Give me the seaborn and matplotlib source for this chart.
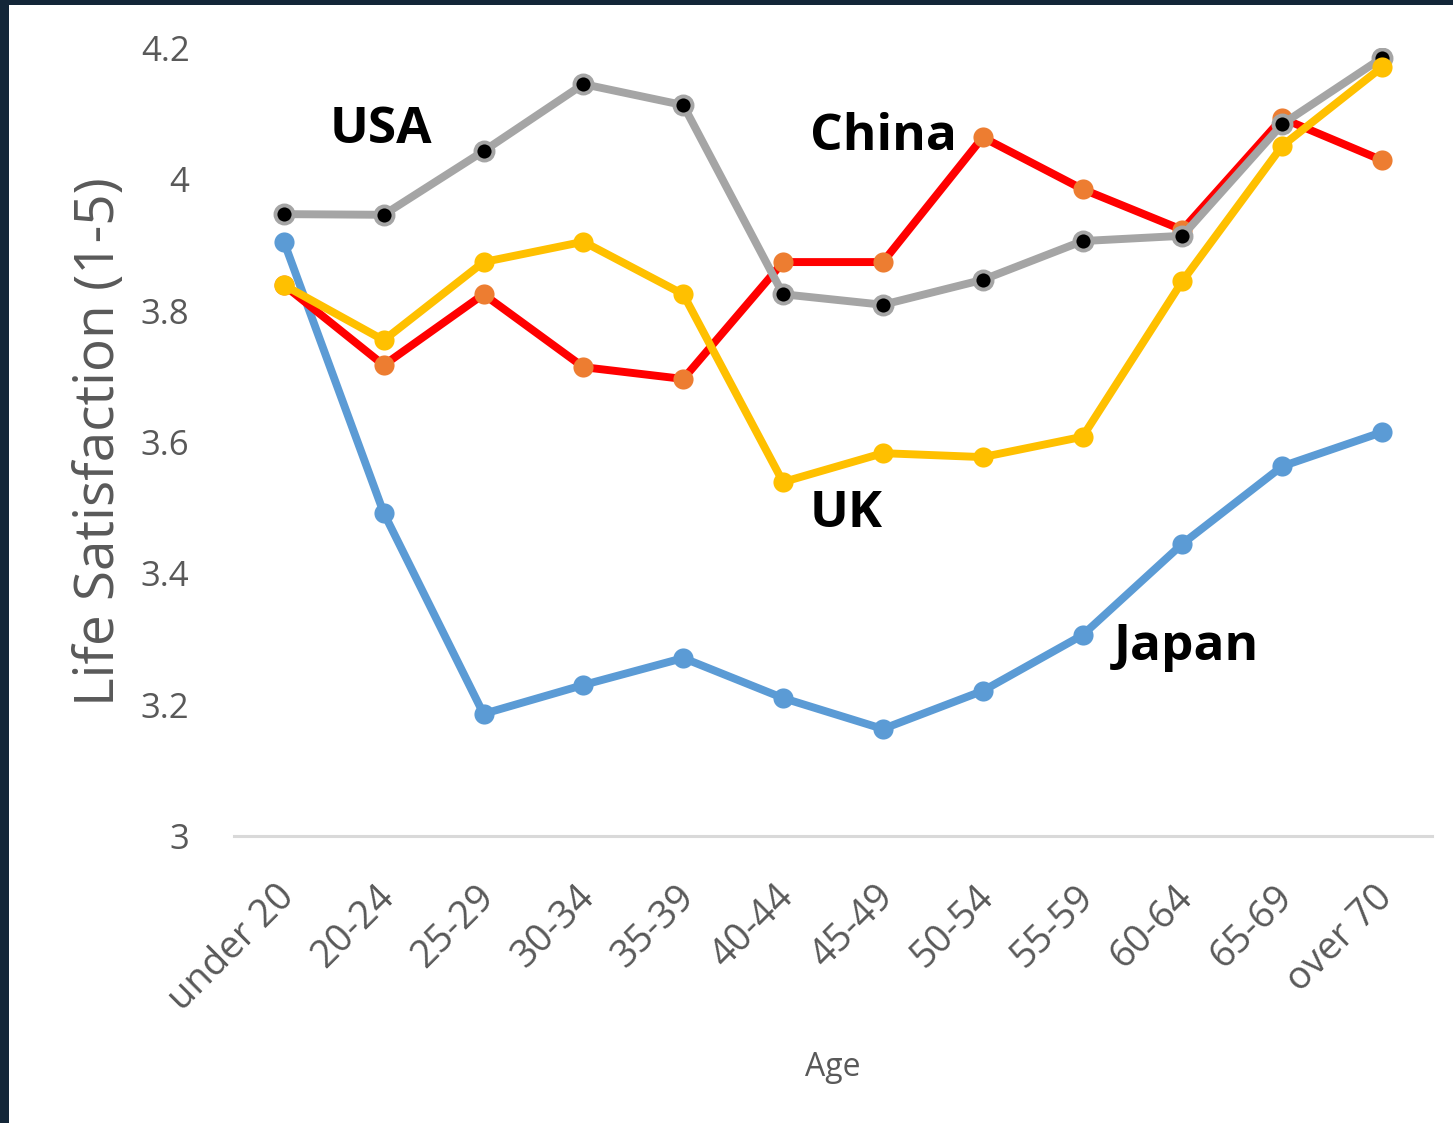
import matplotlib
matplotlib.use("Agg")
import matplotlib.pyplot as plt
import matplotlib.transforms as mtransforms
from matplotlib.patches import Rectangle
import seaborn as sns
import pandas as pd

# age groups on the x axis
ages = ["under 20", "20-24", "25-29", "30-34", "35-39", "40-44",
        "45-49", "50-54", "55-59", "60-64", "65-69", "over 70"]

# life satisfaction per age group
japan = [3.905, 3.492, 3.186, 3.230, 3.271, 3.210, 3.163, 3.221, 3.306, 3.445, 3.563, 3.615]
china = [3.839, 3.717, 3.825, 3.714, 3.696, 3.874, 3.874, 4.064, 3.985, 3.923, 4.093, 4.029]
usa = [3.947, 3.946, 4.043, 4.145, 4.113, 3.825, 3.809, 3.847, 3.906, 3.914, 4.084, 4.185]
uk = [3.839, 3.755, 3.874, 3.905, 3.825, 3.539, 3.583, 3.577, 3.608, 3.845, 4.051, 4.171]

yticks = [3, 3.2, 3.4, 3.6, 3.8, 4, 4.2]
ytick_labels = ["3", "3.2", "3.4", "3.6", "3.8", "4", "4.2"]

sns.set_style("white")
plt.rcParams['font.family'] = ['Open Sans', 'DejaVu Sans']

fig = plt.figure(figsize=(14.53, 11.23), dpi=100)
fig.patch.set_facecolor('#132638')
fig.add_artist(Rectangle((9 / 1453, 0), 1, 1 - 5 / 1123, transform=fig.transFigure,
                         facecolor='white', edgecolor='none', zorder=0))

ax = fig.add_axes([234 / 1453, 1 - 836 / 1123, (1432 - 234) / 1453, (836 - 48) / 1123])
ax.set_facecolor('none')

df = pd.DataFrame({'age': ages, 'Japan': japan, 'China': china, 'USA': usa, 'UK': uk})

# (series, line colour, marker face, marker edge)
styles = [
    ('Japan', '#5b9bd5', '#5b9bd5', '#5b9bd5'),
    ('China', '#ff0000', '#ed7d31', '#ed7d31'),
    ('USA', '#a5a5a5', 'black', '#a5a5a5'),
    ('UK', '#ffc000', '#ffc000', '#ffc000'),
]
for i, (name, lc, mfc, mec) in enumerate(styles):
    sns.lineplot(data=df, x='age', y=name, ax=ax, color=lc, linewidth=5.7,
                 marker='o', markersize=14.5 if name != 'USA' else 13,
                 markerfacecolor=mfc, markeredgecolor=mec,
                 markeredgewidth=2.8 if name == 'USA' else 0, zorder=3 + i)

ax.set_xlim(-0.5, 11.5)
ax.set_ylim(3, 4.2)
ax.set_yticks(yticks)
ax.set_yticklabels(ytick_labels)
ax.tick_params(axis='y', length=0, pad=32, labelsize=25, labelcolor='#595959')
ax.tick_params(axis='x', length=0, pad=40, labelsize=27.5, labelcolor='#595959')
# nudge the rotated labels a little to the right
shift = mtransforms.ScaledTranslation(5 / 100, 0, fig.dpi_scale_trans)
for lab in ax.get_xticklabels():
    lab.set_rotation(45)
    lab.set_ha('right')
    lab.set_va('center')
    lab.set_rotation_mode('anchor')
    lab.set_transform(lab.get_transform() + shift)

for s in ['top', 'right', 'left']:
    ax.spines[s].set_visible(False)
ax.spines['bottom'].set_color('#d9d9d9')
ax.spines['bottom'].set_linewidth(2.2)
ax.grid(False)

ax.set_xlabel('Age', fontsize=23, color='#595959', labelpad=23)
ax.set_ylabel('Life Satisfaction (1-5)', fontsize=39.5, color='#595959', labelpad=10)

# series names written on the chart
for name, x, y in [('USA', 0.97, 4.055), ('China', 6.01, 4.045),
                   ('UK', 5.63, 3.470), ('Japan', 9.04, 3.268)]:
    ax.text(x, y, name, fontsize=37, fontweight='bold', color='black',
            ha='center', va='baseline', zorder=10)

fig.savefig('out.png', dpi=100, facecolor=fig.get_facecolor())
